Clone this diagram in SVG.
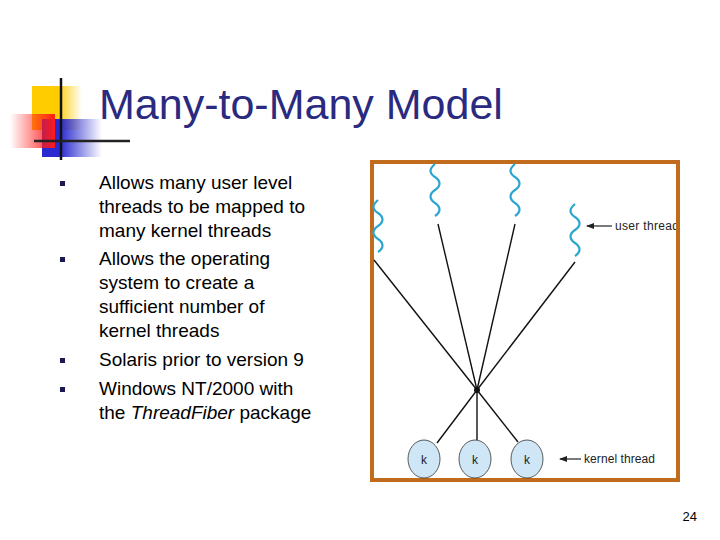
<svg xmlns="http://www.w3.org/2000/svg" width="720" height="540" viewBox="0 0 720 540">
<style>
.t{font-family:"Liberation Sans",Arial,sans-serif;fill:#000;font-size:19px}
.w{fill:none;stroke:#2aa6cf;stroke-width:2.2}
.c{stroke:#111;stroke-width:1.4}
.k{fill:#cfe6f6;stroke:#333;stroke-width:0.8}
.s{font-family:"Liberation Sans",Arial,sans-serif;font-size:12px;fill:#222}
.b{fill:#1a1a50}
</style>
<defs>
<linearGradient id="gy" x1="0" x2="1"><stop offset="0.5" stop-color="#ffcc00"/><stop offset="1" stop-color="#ffcc00" stop-opacity="0"/></linearGradient>
<linearGradient id="gb" x1="0" x2="1"><stop offset="0.3" stop-color="#2a2ad0"/><stop offset="1" stop-color="#2a2ad0" stop-opacity="0"/></linearGradient>
<linearGradient id="gr" x1="1" x2="0"><stop offset="0" stop-color="#ff1a1a"/><stop offset="1" stop-color="#ff1a1a" stop-opacity="0"/></linearGradient>
<path id="wv" d="M0,0 c-6,5 -6,9 0,13 c6,4 6,9 0,13 c-6,4 -6,9 0,13 c6,4 6,9 0,13"/>
<marker id="ar" markerWidth="8" markerHeight="6" refX="7" refY="3" orient="auto" markerUnits="userSpaceOnUse"><path d="M0,0 L8,3 L0,6 Z" fill="#222"/></marker>
<clipPath id="fr"><rect x="374" y="164" width="302" height="314"/></clipPath>
</defs>
<g id="logo">
<rect x="32" y="86" width="50" height="44" fill="url(#gy)"/>
<rect x="42" y="119" width="60" height="38" fill="url(#gb)"/>
<rect x="10" y="114" width="45" height="34" fill="url(#gr)"/>
<line x1="61" y1="78" x2="61" y2="160" stroke="#111" stroke-width="2.5"/>
<line x1="34" y1="141" x2="130" y2="141" stroke="#222" stroke-width="2.5"/>
</g>
<text x="99" y="119" font-family="'Liberation Sans',Arial,sans-serif" font-size="43" fill="#2a2a80">Many-to-Many Model</text>
<g id="bullets">
<rect class="b" x="60" y="181" width="5" height="5"/>
<rect class="b" x="60" y="257" width="5" height="5"/>
<rect class="b" x="60" y="358" width="5" height="5"/>
<rect class="b" x="60" y="387" width="5" height="5"/>
<text class="t" x="99" y="189">Allows many user level</text>
<text class="t" x="99" y="213">threads to be mapped to</text>
<text class="t" x="99" y="237">many kernel threads</text>
<text class="t" x="99" y="265">Allows the  operating</text>
<text class="t" x="99" y="289">system to create a</text>
<text class="t" x="99" y="313">sufficient number of</text>
<text class="t" x="99" y="337">kernel threads</text>
<text class="t" x="99" y="366">Solaris prior to version 9</text>
<text class="t" x="99" y="395">Windows NT/2000 with</text>
<text class="t" x="99" y="419">the <tspan font-style="italic">ThreadFiber</tspan> package</text>
</g>
<rect x="372" y="162" width="306" height="318" fill="#fff" stroke="#c06c1c" stroke-width="4"/>
<g id="connectors">
<line class="c" x1="374" y1="260" x2="477" y2="390"/>
<line class="c" x1="438" y1="224" x2="477" y2="390"/>
<line class="c" x1="515" y1="224" x2="477" y2="390"/>
<line class="c" x1="575" y1="262" x2="477" y2="390"/>
<line class="c" x1="477" y1="390" x2="437" y2="443"/>
<line class="c" x1="477" y1="390" x2="477" y2="440"/>
<line class="c" x1="477" y1="390" x2="518" y2="442"/>
<circle cx="477" cy="390" r="3" fill="#111"/>
</g>
<g id="user-threads">
<use href="#wv" class="w" x="378" y="200"/>
<use href="#wv" class="w" x="435" y="164"/>
<use href="#wv" class="w" x="515" y="164"/>
<use href="#wv" class="w" x="575" y="204"/>
<line x1="612" y1="226" x2="587" y2="226" stroke="#222" stroke-width="1.2" marker-end="url(#ar)"/>
<text class="s" x="615" y="230" clip-path="url(#fr)" textLength="64">user thread</text>
</g>
<g id="kernel-threads">
<ellipse class="k" cx="424" cy="459" rx="16" ry="19"/>
<ellipse class="k" cx="475" cy="459" rx="16" ry="19"/>
<ellipse class="k" cx="527" cy="459" rx="16" ry="19"/>
<text class="s" x="424" y="464" text-anchor="middle">k</text>
<text class="s" x="475" y="464" text-anchor="middle">k</text>
<text class="s" x="527" y="464" text-anchor="middle">k</text>
<line x1="581" y1="459" x2="560" y2="459" stroke="#222" stroke-width="1.2" marker-end="url(#ar)"/>
<text class="s" x="584" y="463" textLength="71">kernel thread</text>
</g>
<text x="697" y="521" text-anchor="end" font-family="'Liberation Sans',Arial,sans-serif" font-size="13">24</text>
</svg>
